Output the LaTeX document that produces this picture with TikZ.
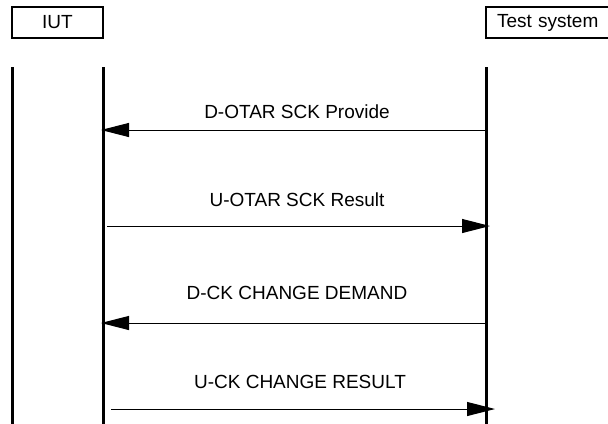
\documentclass[tikz,border=0pt]{standalone}
\usepackage{fontspec}
\setmainfont{Liberation Sans}
\usetikzlibrary{arrows.meta}

\tikzset{
  actorbox/.style={draw,line width=1pt,inner sep=0pt,outer sep=0pt,minimum height=15.5pt,font=\fontsize{9.5}{11}\selectfont},
  lifeline/.style={line width=1.5pt},
  msg/.style={line width=0.5pt,-{Triangle[length=14pt,width=7pt]}},
  msglabel/.style={inner sep=0pt,font=\fontsize{9.5}{11}\selectfont},
}

\begin{document}
\begin{tikzpicture}[x=0.5pt,y=-0.5pt]
\clip (0,0) rectangle (608,423);
\node[actorbox,minimum width=45.5pt] (iut) at (57.5,22.5) {IUT};
\node[actorbox,minimum width=67pt,text width=60pt,align=left] (ts) at (553,22.5) {\hspace*{2pt}Test system};

% lifelines
\coordinate (leftTop) at (12,67);
\coordinate (leftBot) at (12,430);
\coordinate (iutTop) at (103,67);
\coordinate (iutBot) at (103,430);
\coordinate (tsTop) at (486,67);
\coordinate (tsBot) at (486,430);
\draw[lifeline] (leftTop)--(leftBot);
\draw[lifeline] (iutTop)--(iutBot);
\draw[lifeline] (tsTop)--(tsBot);

% messages
\coordinate (iut1) at (103,130);
\coordinate (ts1) at (486,130);
\coordinate (iut2) at (103,226);
\coordinate (ts2) at (486,226);
\coordinate (iut3) at (103,323);
\coordinate (ts3) at (486,323);
\coordinate (iut4) at (103,409);
\coordinate (ts4) at (486,409);

\draw[msg,shorten >=-1pt] (ts1)--(iut1);
\node[msglabel] (lbl1) at (297,112) {D-OTAR SCK Provide};
\draw[msg,shorten <=2pt,shorten >=-2pt] (iut2)--(ts2);
\node[msglabel] (lbl2) at (297,200) {U-OTAR SCK Result};
\draw[msg,shorten >=-1pt] (ts3)--(iut3);
\node[msglabel] (lbl3) at (297,293) {D-CK CHANGE DEMAND};
\draw[msg,shorten <=4pt,shorten >=-4.5pt] (iut4)--(ts4);
\node[msglabel] (lbl4) at (300,382) {U-CK CHANGE RESULT};
\end{tikzpicture}
\end{document}
